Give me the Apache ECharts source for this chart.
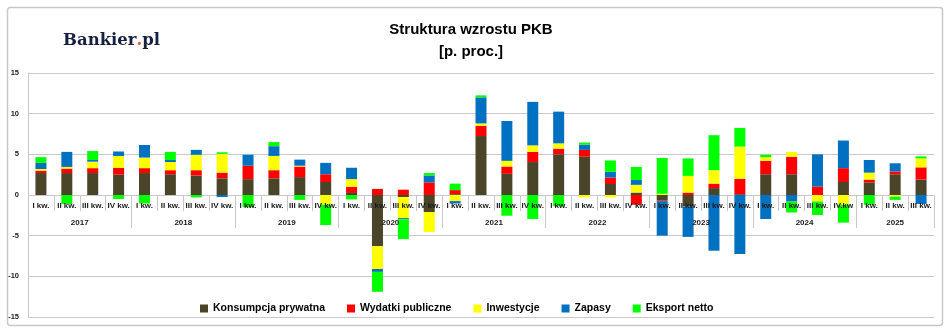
<!DOCTYPE html>
<html><head><meta charset="utf-8">
<script src="https://cdn.jsdelivr.net/npm/echarts@6/dist/echarts.min.js"></script>
<style>html,body{margin:0;padding:0;background:#fff}#c{width:948px;height:336px}</style>
</head><body><div id="c"></div>
<script>
const quarterLabels = ['I kw.','II kw.','III kw.','IV kw.','I kw.','II kw.','III kw.','IV kw.','I kw.','II kw.','III kw.','IV kw.','I kw.','II kw.','III kw.','IV kw.','I kw.','II kw.','III kw.','IV kw.','I kw.','II kw.','III kw.','IV kw.','I kw.','II kw.','III kw.','IV kw.','I kw.','II kw.','III kw.','IV.kw','I kw.','II kw.','III kw.'];
const years = ['2017','2018','2019','2020','2021','2022','2023','2024','2025'];
const quartersPerYear = [4,4,4,4,4,4,4,4,3];
const seriesNames = ['Konsumpcja prywatna','Wydatki publiczne','Inwestycje','Zapasy','Eksport netto'];
const konsumpcja = [2.7,2.7,2.7,2.5,2.7,2.55,2.4,2.05,1.95,2.05,2.2,1.6,0.25,-6.3,-0.25,-2.1,0.1,7.25,2.6,4.05,5.0,4.7,1.35,0.3,-0.65,-1.4,0.85,0.1,2.55,2.55,0,1.6,1.55,2.55,1.9];
const wydatki = [0.3,0.55,0.6,0.85,0.6,0.5,0.65,0.7,1.65,1.0,1.3,0.95,0.75,0.75,0.65,1.55,0.5,1.25,0.9,1.25,0.7,0.85,0.8,-1.2,-0.1,0.3,0.55,1.9,1.65,2.15,1.05,1.7,0.35,0.35,1.5];
const inwestycje = [0.2,0.2,0.8,1.45,1.3,1.0,1.9,2.3,0,1.75,0.1,-1.2,0.95,-2.8,-2.6,-2.45,-0.75,0.3,0.7,0.8,0.65,-0.3,-0.3,0.95,0.15,2.05,1.65,3.95,0.45,0.6,-0.8,-1.2,0.85,-0.2,1.1];
const zapasy = [0.75,1.85,0.2,0.55,1.55,0.25,0.6,-0.25,1.35,1.2,0.75,1.4,1.4,-0.35,-0.12,0.85,-0.3,3.2,4.9,5.35,3.9,0.65,0.7,0.6,-4.25,-3.75,-6.85,-7.25,-2.95,-0.8,3.95,3.4,1.55,1.0,-1.1];
const eksport = [0.7,-1.1,1.1,-0.5,-1.05,1.0,-0.3,0.2,-1.5,0.5,-0.6,-2.5,-0.55,-2.45,-2.45,0.3,0.8,0.25,-2.55,-2.95,-1.4,0.25,1.4,1.6,4.4,2.15,4.3,2.3,0.3,-1.35,-1.65,-2.2,-1.2,-0.4,0.25];
const yTicks = [-15,-10,-5,0,5,10,15];

const colors = ['#4a4429','#ff0000','#ffff00','#0070c0','#00ff00'];
const values = [konsumpcja, wydatki, inwestycje, zapasy, eksport];

// year group boundaries and centers in quarter units
const yearBounds = [0];
quartersPerYear.forEach(n => yearBounds.push(yearBounds[yearBounds.length-1] + n));
const yearCenters = quartersPerYear.map((n,i) => yearBounds[i] + n/2);
const total = yearBounds[yearBounds.length-1];

const W = 948, H = 336;
const G = {left: 28, right: 14, top: 73, bottom: 19};
const yMin = yTicks[0], yMax = yTicks[yTicks.length-1];
// second grid ends exactly at the zero line of the main grid
const plotH = H - G.top - G.bottom;
const zeroFromBottom = G.bottom + plotH * (0 - yMin) / (yMax - yMin);

const chart = echarts.init(document.getElementById('c'), null, {renderer:'canvas'});
const FONT = 'Liberation Sans';
const gridLine = '#c8c8c8';
chart.setOption({
  animation: false,
  backgroundColor: '#fff',
  textStyle: {fontFamily: FONT},
  graphic: [
    {type:'rect', shape:{x:7.5,y:7.5,width:935,height:318,r:3}, style:{fill:null, stroke:'#c8c8c8', lineWidth:1.5}, z:-10},
    {type:'text', x:471, y:30, style:{text:'Struktura wzrostu PKB', font:'bold 15px '+FONT, fill:'#000', align:'center', verticalAlign:'middle'}},
    {type:'text', x:471, y:52, style:{text:'[p. proc.]', font:'bold 15px '+FONT, fill:'#000', align:'center', verticalAlign:'middle'}},
    {type:'text', x:63, y:41, style:{text:'{a|Bankier}{b|.}{a|pl}', verticalAlign:'middle', align:'left',
      rich:{a:{fontFamily:'DejaVu Serif', fontWeight:'bold', fontSize:16.5, fill:'#162040', color:'#162040'},
            b:{fontFamily:'DejaVu Serif', fontWeight:'bold', fontSize:16.5, fill:'#f05a28', color:'#f05a28'}}}}
  ],
  legend: {
    data: seriesNames, left: 195, top: 298, itemWidth: 8, itemHeight: 8, itemGap: 22, icon: 'rect',
    textStyle: {fontFamily: FONT, fontWeight: 'bold', fontSize: 10.5, color: '#000'}
  },
  grid: [
    {left: G.left, right: G.right, top: G.top, bottom: G.bottom, containLabel: false, outerBoundsMode: 'none'},
    {left: G.left, right: G.right, top: G.top, bottom: zeroFromBottom, containLabel: false, outerBoundsMode: 'none'}
  ],
  xAxis: [
    {type:'category', data: quarterLabels, gridIndex:0, show:false},
    {type:'category', data: quarterLabels, gridIndex:1, position:'bottom', z: 10,
     axisLine:{show:false, onZero:false},
     axisTick:{show:true, interval:0, length:16, lineStyle:{color:gridLine}},
     axisLabel:{interval:0, margin:7, fontSize:8, fontWeight:'bold', color:'#1a1a1a', fontFamily:FONT, hideOverlap:false},
     splitLine:{show:false}},
    {type:'value', min:0, max:total, gridIndex:1, position:'bottom', z: 10,
     axisLine:{show:false, onZero:false},
     axisTick:{show:true, length:33, customValues: yearBounds, lineStyle:{color:gridLine}},
     axisLabel:{show:true, margin:24, customValues: yearCenters, fontSize:8, fontWeight:'bold', color:'#1a1a1a', fontFamily:FONT,
       formatter: v => { const i = yearCenters.indexOf(v); return i >= 0 ? years[i] : ''; }},
     splitLine:{show:false}}
  ],
  yAxis: [
    {type:'value', gridIndex:0, min:yMin, max:yMax, interval:5,
     axisLine:{show:true, lineStyle:{color:gridLine}},
     axisTick:{show:false},
     axisLabel:{fontSize:7.5, fontWeight:'bold', color:'#1a1a1a', margin:9, fontFamily:FONT},
     splitLine:{show:true, lineStyle:{color:gridLine, width:1}}},
    {type:'value', gridIndex:1, min:0, max:1, show:false, splitLine:{show:false}}
  ],
  series: seriesNames.map((n,i) => ({
    name: n, type:'bar', stack:'pkb', barWidth: 11, xAxisIndex:0, yAxisIndex:0,
    itemStyle:{color: colors[i]}, data: values[i]
  }))
});
</script></body></html>
